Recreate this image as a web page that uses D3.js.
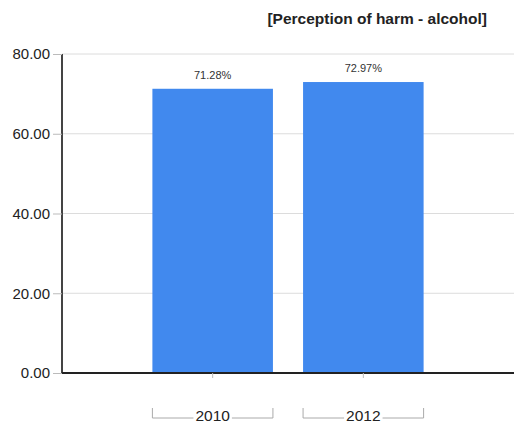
<!DOCTYPE html>
<html><head><meta charset="utf-8">
<script src="https://cdn.jsdelivr.net/npm/d3@7"></script>
<style>body{margin:0;background:#fff;} svg{display:block;font-family:Arial,"Liberation Sans",sans-serif;}</style>
</head><body>
<svg id="c" width="514" height="425"></svg>
<script>
const title = "[Perception of harm - alcohol]";
const categories = ["2010", "2012"];
const values = [71.28, 72.97];
const yTicks = [0, 20, 40, 60, 80];

(function () {
const svg = d3.select("#c");
const mLeft = 62, mRight = 514, mTop = 54, mBottom = 373;
const x = d3.scaleBand().domain(categories).range([mLeft, mRight]).paddingInner(0.2).paddingOuter(0.6);
const y = d3.scaleLinear().domain([0, 80]).range([mBottom, mTop]);

// gridlines
svg.append("g").selectAll("line").data(yTicks.filter(d => d > 0)).join("line")
  .attr("x1", mLeft).attr("x2", mRight).attr("y1", d => y(d)).attr("y2", d => y(d))
  .attr("stroke", "#dcdcdc").attr("stroke-width", 1);

// bars
svg.append("g").selectAll("rect").data(values).join("rect")
  .attr("x", (d, i) => x(categories[i])).attr("width", x.bandwidth())
  .attr("y", d => y(d)).attr("height", d => y(0) - y(d))
  .attr("fill", "#4189ee");

// value labels
svg.append("g").selectAll("text").data(values).join("text")
  .attr("x", (d, i) => x(categories[i]) + x.bandwidth() / 2)
  .attr("y", d => y(d) - 10)
  .attr("text-anchor", "middle").attr("font-size", 11).attr("fill", "#333")
  .text(d => d.toFixed(2) + "%");

// y axis
const yAxis = d3.axisLeft(y).tickValues(yTicks).tickFormat(d3.format(".2f")).tickSize(9).tickPadding(3);
const gy = svg.append("g").attr("transform", `translate(${mLeft},0)`).call(yAxis);
gy.select(".domain").attr("stroke", "#444").attr("stroke-width", 2).attr("d", `M0,${mTop}V${mBottom}`);
gy.selectAll(".tick line").attr("stroke", "#bbb");
gy.selectAll(".tick text").attr("font-size", 15).attr("fill", "#222").attr("font-family", "Arial,'Liberation Sans',sans-serif");

// x axis baseline
const xAxis = d3.axisBottom(x).tickSize(5).tickFormat("");
const gx = svg.append("g").attr("transform", `translate(0,${mBottom})`).call(xAxis);
gx.select(".domain").attr("stroke", "#222").attr("stroke-width", 2).attr("d", `M${mLeft},0H${mRight}`);
gx.selectAll(".tick line").attr("stroke", "#bbb");

// category brackets
const gb = svg.append("g");
categories.forEach(c => {
  const x0 = x(c), x1 = x(c) + x.bandwidth(), cx = x0 + x.bandwidth() / 2;
  const ly = 418;
  const t = gb.append("text").attr("x", cx).attr("y", 421).attr("text-anchor", "middle")
    .attr("font-size", 15.5).attr("fill", "#222").text(c);
  const hw = t.node().getComputedTextLength() / 2 + 2;
  gb.append("path").attr("d", `M${x0},${ly - 10}V${ly}H${cx - hw}M${cx + hw},${ly}H${x1}V${ly - 10}`)
    .attr("fill", "none").attr("stroke", "#aaa").attr("stroke-width", 1);
});

// title
svg.append("text").attr("x", 487).attr("y", 24).attr("text-anchor", "end")
  .attr("font-size", 15.5).attr("font-weight", "bold").attr("fill", "#222").text(title);
})();
</script>
</body></html>
